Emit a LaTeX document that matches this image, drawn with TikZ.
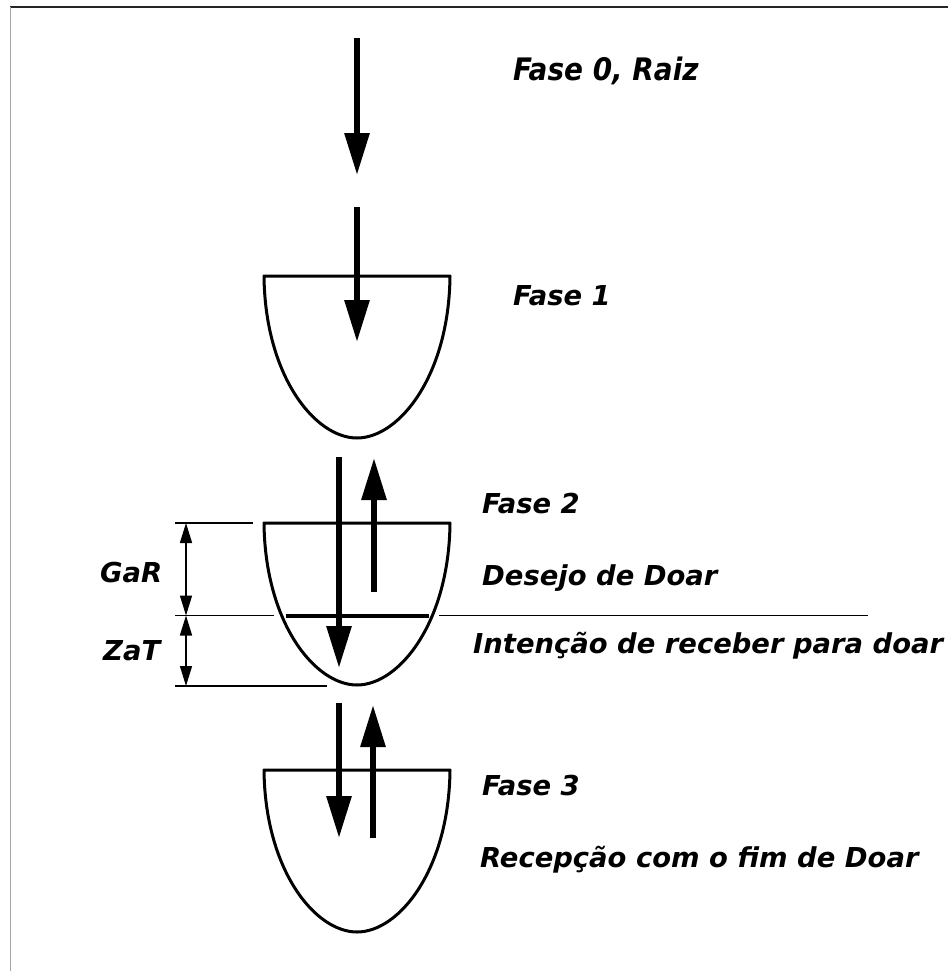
\documentclass[tikz,border=0pt]{standalone}
\usepackage{fontspec}
\setmainfont{DejaVu Sans}
\newfontfamily\condfont{DejaVu Sans Condensed}
\usetikzlibrary{arrows.meta}
\begin{document}
\begin{tikzpicture}[x=1pt,y=-1pt,
  lbl/.style={anchor=base west,inner sep=0pt,font=\fontsize{27.4}{30}\selectfont\bfseries\itshape},
  condlbl/.style={anchor=base west,inner sep=0pt,font=\condfont\fontsize{31}{34}\selectfont\bfseries\itshape},
  bigarrow/.style={line width=6pt,-{Triangle[length=42pt,width=24pt]}},
  bowl/.style={line width=3pt,line join=round},
  thinline/.style={line width=1.3pt},
  dimarrow/.style={line width=1.5pt,{Triangle[length=20pt,width=12pt]}-{Triangle[length=20pt,width=12pt]}},
  bowlpic/.pic={\draw[bowl] (-93,0) .. controls (-92,100) and (-42,162) .. (0,162) .. controls (42,162) and (92,100) .. (93,0) -- cycle;}]
\useasboundingbox (0,0) rectangle (948,971);
% frame
\draw[line width=2.5pt,black!85] (10,7) -- (948,7);
\draw[line width=1.5pt,black!35] (10.5,7) -- (10.5,971);
% bowls
\pic at (357,276) {bowlpic};
\pic at (357,523) {bowlpic};
\pic at (357,770) {bowlpic};
% heavy line in bowl 2
\draw[line width=4pt] (286,615.5) -- (429,615.5);
% thin lines
\coordinate (t1a) at (175,523); \coordinate (t1b) at (253,523);
\coordinate (t2a) at (175,615.5); \coordinate (t2b) at (274,615.5);
\coordinate (t2c) at (439,615.5); \coordinate (t2d) at (868,615.5);
\coordinate (t3a) at (175,686); \coordinate (t3b) at (327,686);
\draw[thinline] (t1a) -- (t1b);
\draw[thinline] (t2a) -- (t2b);
\draw[thinline] (t2c) -- (t2d);
\draw[thinline] (t3a) -- (t3b);
% dimension arrows
\coordinate (d1) at (186,523); \coordinate (d2) at (186,615.5); \coordinate (d3) at (186,686);
\draw[dimarrow] (d1) -- (d2);
\draw[dimarrow] (d2) -- (d3);
% big arrows
\coordinate (a0s) at (357,38);  \coordinate (a0e) at (357,175);
\coordinate (a1s) at (357,207); \coordinate (a1e) at (357,342);
\coordinate (b1s) at (339,457); \coordinate (b1e) at (339,668);
\coordinate (c1s) at (374,592); \coordinate (c1e) at (374,458);
\coordinate (b2s) at (339,703); \coordinate (b2e) at (339,838);
\coordinate (c2s) at (373,838); \coordinate (c2e) at (373,705);
\draw[bigarrow] (a0s) -- (a0e);
\draw[bigarrow] (a1s) -- (a1e);
\draw[bigarrow] (b1s) -- (b1e);
\draw[bigarrow] (c1s) -- (c1e);
\draw[bigarrow] (b2s) -- (b2e);
\draw[bigarrow] (c2s) -- (c2e);
% labels
\node[condlbl] (f0) at (513,81) {Fase 0, Raiz};
\node[lbl] (f1) at (513,305) {Fase 1};
\node[lbl] (f2) at (482,513) {Fase 2};
\node[lbl] (dd) at (482,585) {Desejo de Doar};
\node[lbl] (ir) at (473,653) {Intenção de receber para doar};
\node[lbl] (f3) at (482,795) {Fase 3};
\node[lbl] (rc) at (480,867) {Recepção com o fim de Doar};
\node[lbl] (gar) at (100,582) {GaR};
\node[lbl] (zat) at (103,660) {ZaT};
\end{tikzpicture}
\end{document}
